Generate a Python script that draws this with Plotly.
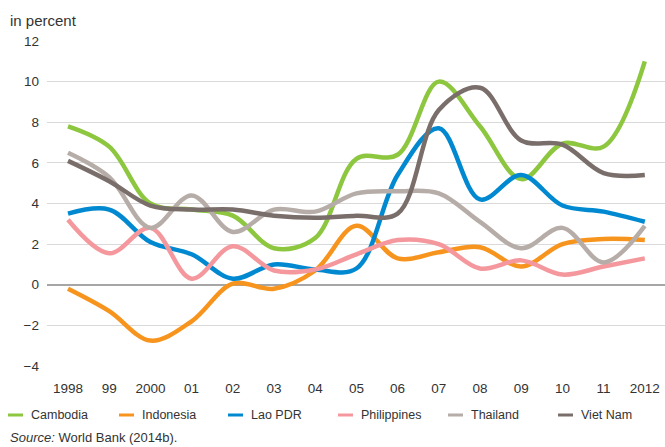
import plotly.graph_objects as go

years = list(range(1998, 2013))
tick_labels = ["1998", "99", "2000", "01", "02", "03", "04", "05", "06", "07", "08", "09", "10", "11", "2012"]

cambodia = [7.8, 6.8, 4.0, 3.7, 3.4, 1.8, 2.3, 6.2, 6.4, 10.0, 7.8, 5.2, 6.95, 6.8, 11.0]
indonesia = [-0.2, -1.3, -2.75, -1.8, 0.05, -0.2, 0.7, 2.9, 1.3, 1.6, 1.85, 0.9, 2.0, 2.25, 2.2]
lao = [3.5, 3.7, 2.1, 1.5, 0.3, 1.0, 0.75, 0.8, 5.4, 7.7, 4.2, 5.4, 3.9, 3.6, 3.1]
philippines = [3.2, 1.55, 2.8, 0.3, 1.9, 0.7, 0.75, 1.5, 2.2, 2.0, 0.8, 1.2, 0.5, 0.9, 1.3]
thailand = [6.5, 5.3, 2.8, 4.4, 2.6, 3.7, 3.6, 4.5, 4.6, 4.5, 3.1, 1.8, 2.8, 1.1, 2.9]
vietnam = [6.1, 5.1, 3.9, 3.7, 3.7, 3.4, 3.3, 3.4, 3.5, 8.6, 9.7, 7.1, 6.9, 5.5, 5.4]

series_names = ["Cambodia", "Indonesia", "Lao PDR", "Philippines", "Thailand", "Viet Nam"]
series_values = [cambodia, indonesia, lao, philippines, thailand, vietnam]
series_colors = ["#8dc63f", "#f7941d", "#0089d0", "#f4989d", "#b7ada8", "#7a6e6b"]

FONT = "Liberation Sans, Arial, sans-serif"
TXT = "#333333"

fig = go.Figure()
for name, vals, col in zip(series_names, series_values, series_colors):
    fig.add_trace(go.Scatter(
        x=years, y=vals, name=name, mode="lines",
        line=dict(color=col, width=4.5, shape="spline", smoothing=1.0),
        showlegend=False,
    ))

W, H = 665, 447
ML, MR, MT, MB = 47, 0, 41, 81
PW, PH = W - ML - MR, H - MT - MB


def px_x(px):
    return (px - ML) / PW


def px_y(py):
    return (H - MB - py) / PH


shapes = []
annotations = []
legend_x = [8, 119, 228, 338, 448, 558]
for x0, name, col in zip(legend_x, series_names, series_colors):
    shapes.append(dict(type="line", xref="paper", yref="paper",
                       x0=px_x(x0), x1=px_x(x0 + 15), y0=px_y(415), y1=px_y(415),
                       line=dict(color=col, width=3)))
    annotations.append(dict(xref="paper", yref="paper", x=px_x(x0 + 21), y=px_y(415),
                            text=name, showarrow=False, xanchor="left", yanchor="middle",
                            font=dict(family=FONT, size=12.5, color=TXT)))

annotations.append(dict(xref="paper", yref="paper", x=px_x(8), y=px_y(20),
                        text="in percent", showarrow=False, xanchor="left", yanchor="middle",
                        font=dict(family=FONT, size=15, color=TXT)))
annotations.append(dict(xref="paper", yref="paper", x=px_x(8), y=px_y(437),
                        text="<i>Source:</i> World Bank (2014b).", showarrow=False,
                        xanchor="left", yanchor="middle",
                        font=dict(family=FONT, size=13, color=TXT)))

fig.update_layout(
    width=W, height=H,
    margin=dict(l=ML, r=MR, t=MT, b=MB),
    paper_bgcolor="white", plot_bgcolor="white",
    shapes=shapes, annotations=annotations,
    font=dict(family=FONT, size=13, color=TXT),
    xaxis=dict(range=[1997.49, 2012.49], tickvals=years, ticktext=tick_labels,
               showgrid=False, zeroline=False, showline=False, ticks="",
               ticklabelstandoff=12, tickfont=dict(family=FONT, size=13.5, color=TXT)),
    yaxis=dict(range=[-4, 12], tickvals=list(range(-4, 13, 2)),
               showgrid=True, gridcolor="#d9d9d9", gridwidth=1,
               zeroline=True, zerolinecolor="#a6a6a6", zerolinewidth=1.5,
               showline=False, ticks="", ticklabelstandoff=7,
               tickfont=dict(family=FONT, size=13.5, color=TXT)),
)

fig.write_html("out.html", config={"displayModeBar": False},
               post_script="document.body.style.margin='0';document.body.style.overflow='hidden';")
